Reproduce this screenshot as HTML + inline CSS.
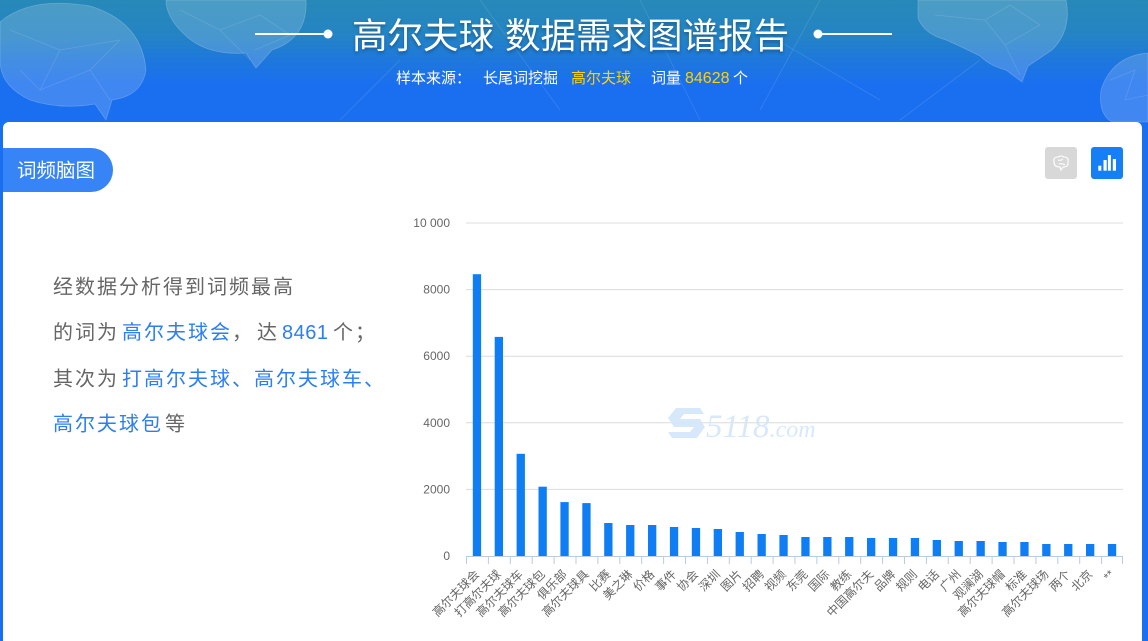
<!DOCTYPE html>
<html>
<head>
<meta charset="utf-8">
<style>
html,body{margin:0;padding:0;}
body{width:1148px;height:641px;overflow:hidden;position:relative;
background:linear-gradient(to bottom,#2789b8 0px,#2484c4 35px,#1e78dc 60px,#1a6ff0 85px,#1a6ef2 641px);
font-family:"Liberation Sans","Noto Sans CJK SC",sans-serif;}
svg{position:absolute;left:0;top:0;}
</style>
</head>
<body>
<svg width="1148" height="641" viewBox="0 0 1148 641" xmlns="http://www.w3.org/2000/svg" font-family="Liberation Sans, Noto Sans CJK SC, sans-serif">
  <!-- header decorations -->
  <g fill="rgba(255,255,255,0.17)" stroke="rgba(255,255,255,0.22)" stroke-width="0.8">
    <path d="M0,22 Q30,-4 90,6 Q142,22 146,70 Q142,96 112,100 L106,120 L95,104 Q60,110 30,100 Q0,86 0,60 Z"/>
    <path d="M166,0 L306,0 Q308,38 272,50 L256,68 L246,53 Q204,56 182,32 Q166,16 166,0 Z"/>
    <path d="M918,0 L1066,0 Q1072,30 1052,50 Q1034,62 1028,66 L1022,82 L1006,70 Q990,66 980,56 Q960,46 946,40 Q924,34 918,18 Z"/>
    <path d="M1148,53 Q1112,56 1101,90 Q1098,114 1112,122 L1148,122 Z"/>
  </g>
  <g stroke="rgba(255,255,255,0.13)" stroke-width="0.8" fill="none">
    <path d="M10,30 L60,50 L40,90 L90,70 L120,40 L60,50 M90,70 L110,100 M20,70 L40,90"/>
    <path d="M180,10 L220,30 L260,15 L290,35 L255,50 M220,30 L250,60"/>
    <path d="M935,15 L985,20 L1005,45 L1040,25 L1010,5 L985,20 M1005,45 L1020,75"/>
    <path d="M1110,80 L1135,70 L1125,100 L1148,95"/>
    <path d="M480,0 L560,110 M640,0 L700,120 M760,30 L880,100 M820,0 L760,110 M400,60 L340,120 M980,60 L900,120"/>
  </g>

  <!-- title -->
  <line x1="255" y1="34" x2="325" y2="34" stroke="#fff" stroke-width="2"/>
  <circle cx="328" cy="34" r="4.5" fill="#fff"/>
  <line x1="822" y1="34" x2="892" y2="34" stroke="#fff" stroke-width="2"/>
  <circle cx="818" cy="34" r="4.5" fill="#fff"/>
  <text x="352" y="48" font-size="35.5" fill="#fff" font-family="Liberation Sans, Noto Sans CJK SC, sans-serif" style="text-shadow:0 2px 3px rgba(0,0,0,0.3)">高尔夫球</text>
  <text x="505" y="48" font-size="35.5" fill="#fff" font-family="Liberation Sans, Noto Sans CJK SC, sans-serif" style="text-shadow:0 2px 3px rgba(0,0,0,0.3)">数据需求图谱报告</text>

  <!-- subtitle -->
  <g font-size="15" fill="#fff">
    <text x="396" y="83">样本来源：</text>
    <text x="483" y="83">长尾词挖掘</text>
    <text x="571" y="83" fill="#ffd200">高尔夫球</text>
    <text x="651" y="83">词量</text>
    <text x="685" y="83" fill="#ffd200" font-size="16">84628</text>
    <text x="733" y="83">个</text>
  </g>

  <!-- card -->
  <rect x="3" y="122" width="1139" height="540" rx="6" fill="#fff"/>

  <!-- tab -->
  <path d="M3,148 L91,148 A22,22 0 0 1 91,192 L3,192 Z" fill="#3784f6"/>
  <text x="17" y="177" font-size="19.5" fill="#fff">词频脑图</text>

  <!-- icons -->
  <rect x="1045" y="147" width="32" height="32" rx="3" fill="#d8d8d8"/>
  <g fill="none" stroke="#fff" stroke-width="1.1">
    <path d="M1054,162 Q1053,157 1058,157 Q1061,155 1064,157 Q1069,157 1068,162 Q1069,167 1063,167 L1061,170 L1060,167 Q1054,167 1054,162 Z"/>
    <path d="M1058,160 Q1061,161 1063,159 M1059,164 Q1062,163 1065,165"/>
  </g>
  <rect x="1091" y="147" width="32" height="32" rx="3" fill="#1580f5"/>
  <g fill="#fff">
    <rect x="1098.3" y="165.7" width="3" height="5"/>
    <rect x="1103.5" y="160" width="3.2" height="10.7"/>
    <rect x="1107.9" y="155" width="3" height="15.7"/>
    <rect x="1112.8" y="159" width="3.2" height="11.7"/>
  </g>

  <!-- left text -->
  <g font-size="20" fill="#666" letter-spacing="2">
    <text x="53" y="293.5">经数据分析得到词频最高</text>
    <text x="53" y="339">的词为</text>
    <text x="122" y="339" fill="#2b7ef3">高尔夫球会</text>
    <text x="232" y="339">，</text>
    <text x="257" y="339">达</text>
    <text x="282" y="339" fill="#2b7ef3" letter-spacing="0.5">8461</text>
    <text x="333" y="339">个；</text>
    <text x="53" y="385.5">其次为</text>
    <text x="122" y="385.5" fill="#2b7ef3">打高尔夫球、高尔夫球车、</text>
    <text x="53" y="430.5" fill="#2b7ef3">高尔夫球包</text>
    <text x="165" y="430.5">等</text>
  </g>

  <!-- gridlines -->
  <g stroke="#dcdcdc" stroke-width="1">
    <line x1="466" y1="223" x2="1123" y2="223"/>
    <line x1="466" y1="289.6" x2="1123" y2="289.6"/>
    <line x1="466" y1="356.2" x2="1123" y2="356.2"/>
    <line x1="466" y1="422.8" x2="1123" y2="422.8"/>
    <line x1="466" y1="489.4" x2="1123" y2="489.4"/>
  </g>
  <!-- y labels -->
  <g font-size="12" fill="#666" text-anchor="end">
    <text x="450" y="227">10 000</text>
    <text x="450" y="293.6">8000</text>
    <text x="450" y="360.2">6000</text>
    <text x="450" y="426.8">4000</text>
    <text x="450" y="493.4">2000</text>
    <text x="450" y="560">0</text>
  </g>

  <!-- watermark -->
  <g opacity="0.9">
    <path d="M668,418 L676,408 L700,408 L704,414 L684,414 L680,419 L700,419 L705,427 L697,438 L672,438 L668,432 L690,432 L694,427 L674,427 Z" fill="#d4e6fb"/>
    <text x="706" y="437" font-family="Liberation Serif, serif" font-style="italic" font-size="33" fill="#d4e6fb">5118<tspan font-size="24">.com</tspan></text>
  </g>

  <!-- bars -->
  <g fill="#0f7ef5">
    <rect x="472.8" y="274.2" width="8.3" height="281.8"/>
    <rect x="494.7" y="336.9" width="8.3" height="219.1"/>
    <rect x="516.6" y="453.8" width="8.3" height="102.2"/>
    <rect x="538.5" y="486.7" width="8.3" height="69.3"/>
    <rect x="560.4" y="502.1" width="8.3" height="53.9"/>
    <rect x="582.3" y="503.1" width="8.3" height="52.9"/>
    <rect x="604.2" y="523" width="8.3" height="33"/>
    <rect x="626.1" y="525" width="8.3" height="31"/>
    <rect x="648.0" y="525" width="8.3" height="31"/>
    <rect x="669.9" y="527" width="8.3" height="29"/>
    <rect x="691.8" y="528" width="8.3" height="28"/>
    <rect x="713.7" y="529" width="8.3" height="27"/>
    <rect x="735.6" y="532" width="8.3" height="24"/>
    <rect x="757.5" y="534" width="8.3" height="22"/>
    <rect x="779.4" y="535" width="8.3" height="21"/>
    <rect x="801.3" y="537" width="8.3" height="19"/>
    <rect x="823.2" y="537" width="8.3" height="19"/>
    <rect x="845.1" y="537" width="8.3" height="19"/>
    <rect x="867.0" y="538" width="8.3" height="18"/>
    <rect x="888.9" y="538" width="8.3" height="18"/>
    <rect x="910.8" y="538" width="8.3" height="18"/>
    <rect x="932.7" y="540" width="8.3" height="16"/>
    <rect x="954.6" y="541" width="8.3" height="15"/>
    <rect x="976.5" y="541" width="8.3" height="15"/>
    <rect x="998.4" y="542" width="8.3" height="14"/>
    <rect x="1020.3" y="542" width="8.3" height="14"/>
    <rect x="1042.2" y="544" width="8.3" height="12"/>
    <rect x="1064.1" y="544" width="8.3" height="12"/>
    <rect x="1086.0" y="544" width="8.3" height="12"/>
    <rect x="1107.9" y="544" width="8.3" height="12"/>
  </g>

  <!-- x axis -->
  <g stroke="#bccbdd" stroke-width="1">
    <line x1="466" y1="556.5" x2="1123" y2="556.5"/>
    <path d="M466.5,556 v8 M488.4,556 v8 M510.3,556 v8 M532.2,556 v8 M554.1,556 v8 M576,556 v8 M597.9,556 v8 M619.8,556 v8 M641.7,556 v8 M663.6,556 v8 M685.5,556 v8 M707.4,556 v8 M729.3,556 v8 M751.2,556 v8 M773.1,556 v8 M795,556 v8 M816.9,556 v8 M838.8,556 v8 M860.7,556 v8 M882.6,556 v8 M904.5,556 v8 M926.4,556 v8 M948.3,556 v8 M970.2,556 v8 M992.1,556 v8 M1014,556 v8 M1035.9,556 v8 M1057.8,556 v8 M1079.7,556 v8 M1101.6,556 v8 M1122.5,556 v8"/>
  </g>

  <!-- x labels -->
  <g font-size="12" fill="#666" text-anchor="end">
    <text x="480" y="575" transform="rotate(-45 480 575)">高尔夫球会</text>
    <text x="501.9" y="575" transform="rotate(-45 501.9 575)">打高尔夫球</text>
    <text x="523.8" y="575" transform="rotate(-45 523.8 575)">高尔夫球车</text>
    <text x="545.7" y="575" transform="rotate(-45 545.7 575)">高尔夫球包</text>
    <text x="567.6" y="575" transform="rotate(-45 567.6 575)">俱乐部</text>
    <text x="589.5" y="575" transform="rotate(-45 589.5 575)">高尔夫球具</text>
    <text x="611.4" y="575" transform="rotate(-45 611.4 575)">比赛</text>
    <text x="633.3" y="575" transform="rotate(-45 633.3 575)">美之琳</text>
    <text x="655.2" y="575" transform="rotate(-45 655.2 575)">价格</text>
    <text x="677.1" y="575" transform="rotate(-45 677.1 575)">事件</text>
    <text x="699" y="575" transform="rotate(-45 699 575)">协会</text>
    <text x="720.9" y="575" transform="rotate(-45 720.9 575)">深圳</text>
    <text x="742.8" y="575" transform="rotate(-45 742.8 575)">图片</text>
    <text x="764.7" y="575" transform="rotate(-45 764.7 575)">招聘</text>
    <text x="786.6" y="575" transform="rotate(-45 786.6 575)">视频</text>
    <text x="808.5" y="575" transform="rotate(-45 808.5 575)">东莞</text>
    <text x="830.4" y="575" transform="rotate(-45 830.4 575)">国际</text>
    <text x="852.3" y="575" transform="rotate(-45 852.3 575)">教练</text>
    <text x="874.2" y="575" transform="rotate(-45 874.2 575)">中国高尔夫</text>
    <text x="896.1" y="575" transform="rotate(-45 896.1 575)">品牌</text>
    <text x="918" y="575" transform="rotate(-45 918 575)">规则</text>
    <text x="939.9" y="575" transform="rotate(-45 939.9 575)">电话</text>
    <text x="961.8" y="575" transform="rotate(-45 961.8 575)">广州</text>
    <text x="983.7" y="575" transform="rotate(-45 983.7 575)">观澜湖</text>
    <text x="1005.6" y="575" transform="rotate(-45 1005.6 575)">高尔夫球帽</text>
    <text x="1027.5" y="575" transform="rotate(-45 1027.5 575)">标准</text>
    <text x="1049.4" y="575" transform="rotate(-45 1049.4 575)">高尔夫球场</text>
    <text x="1071.3" y="575" transform="rotate(-45 1071.3 575)">两个</text>
    <text x="1093.2" y="575" transform="rotate(-45 1093.2 575)">北京</text>
    <text x="1115.1" y="575" transform="rotate(-45 1115.1 575)">**</text>
  </g>
</svg>
</body>
</html>
